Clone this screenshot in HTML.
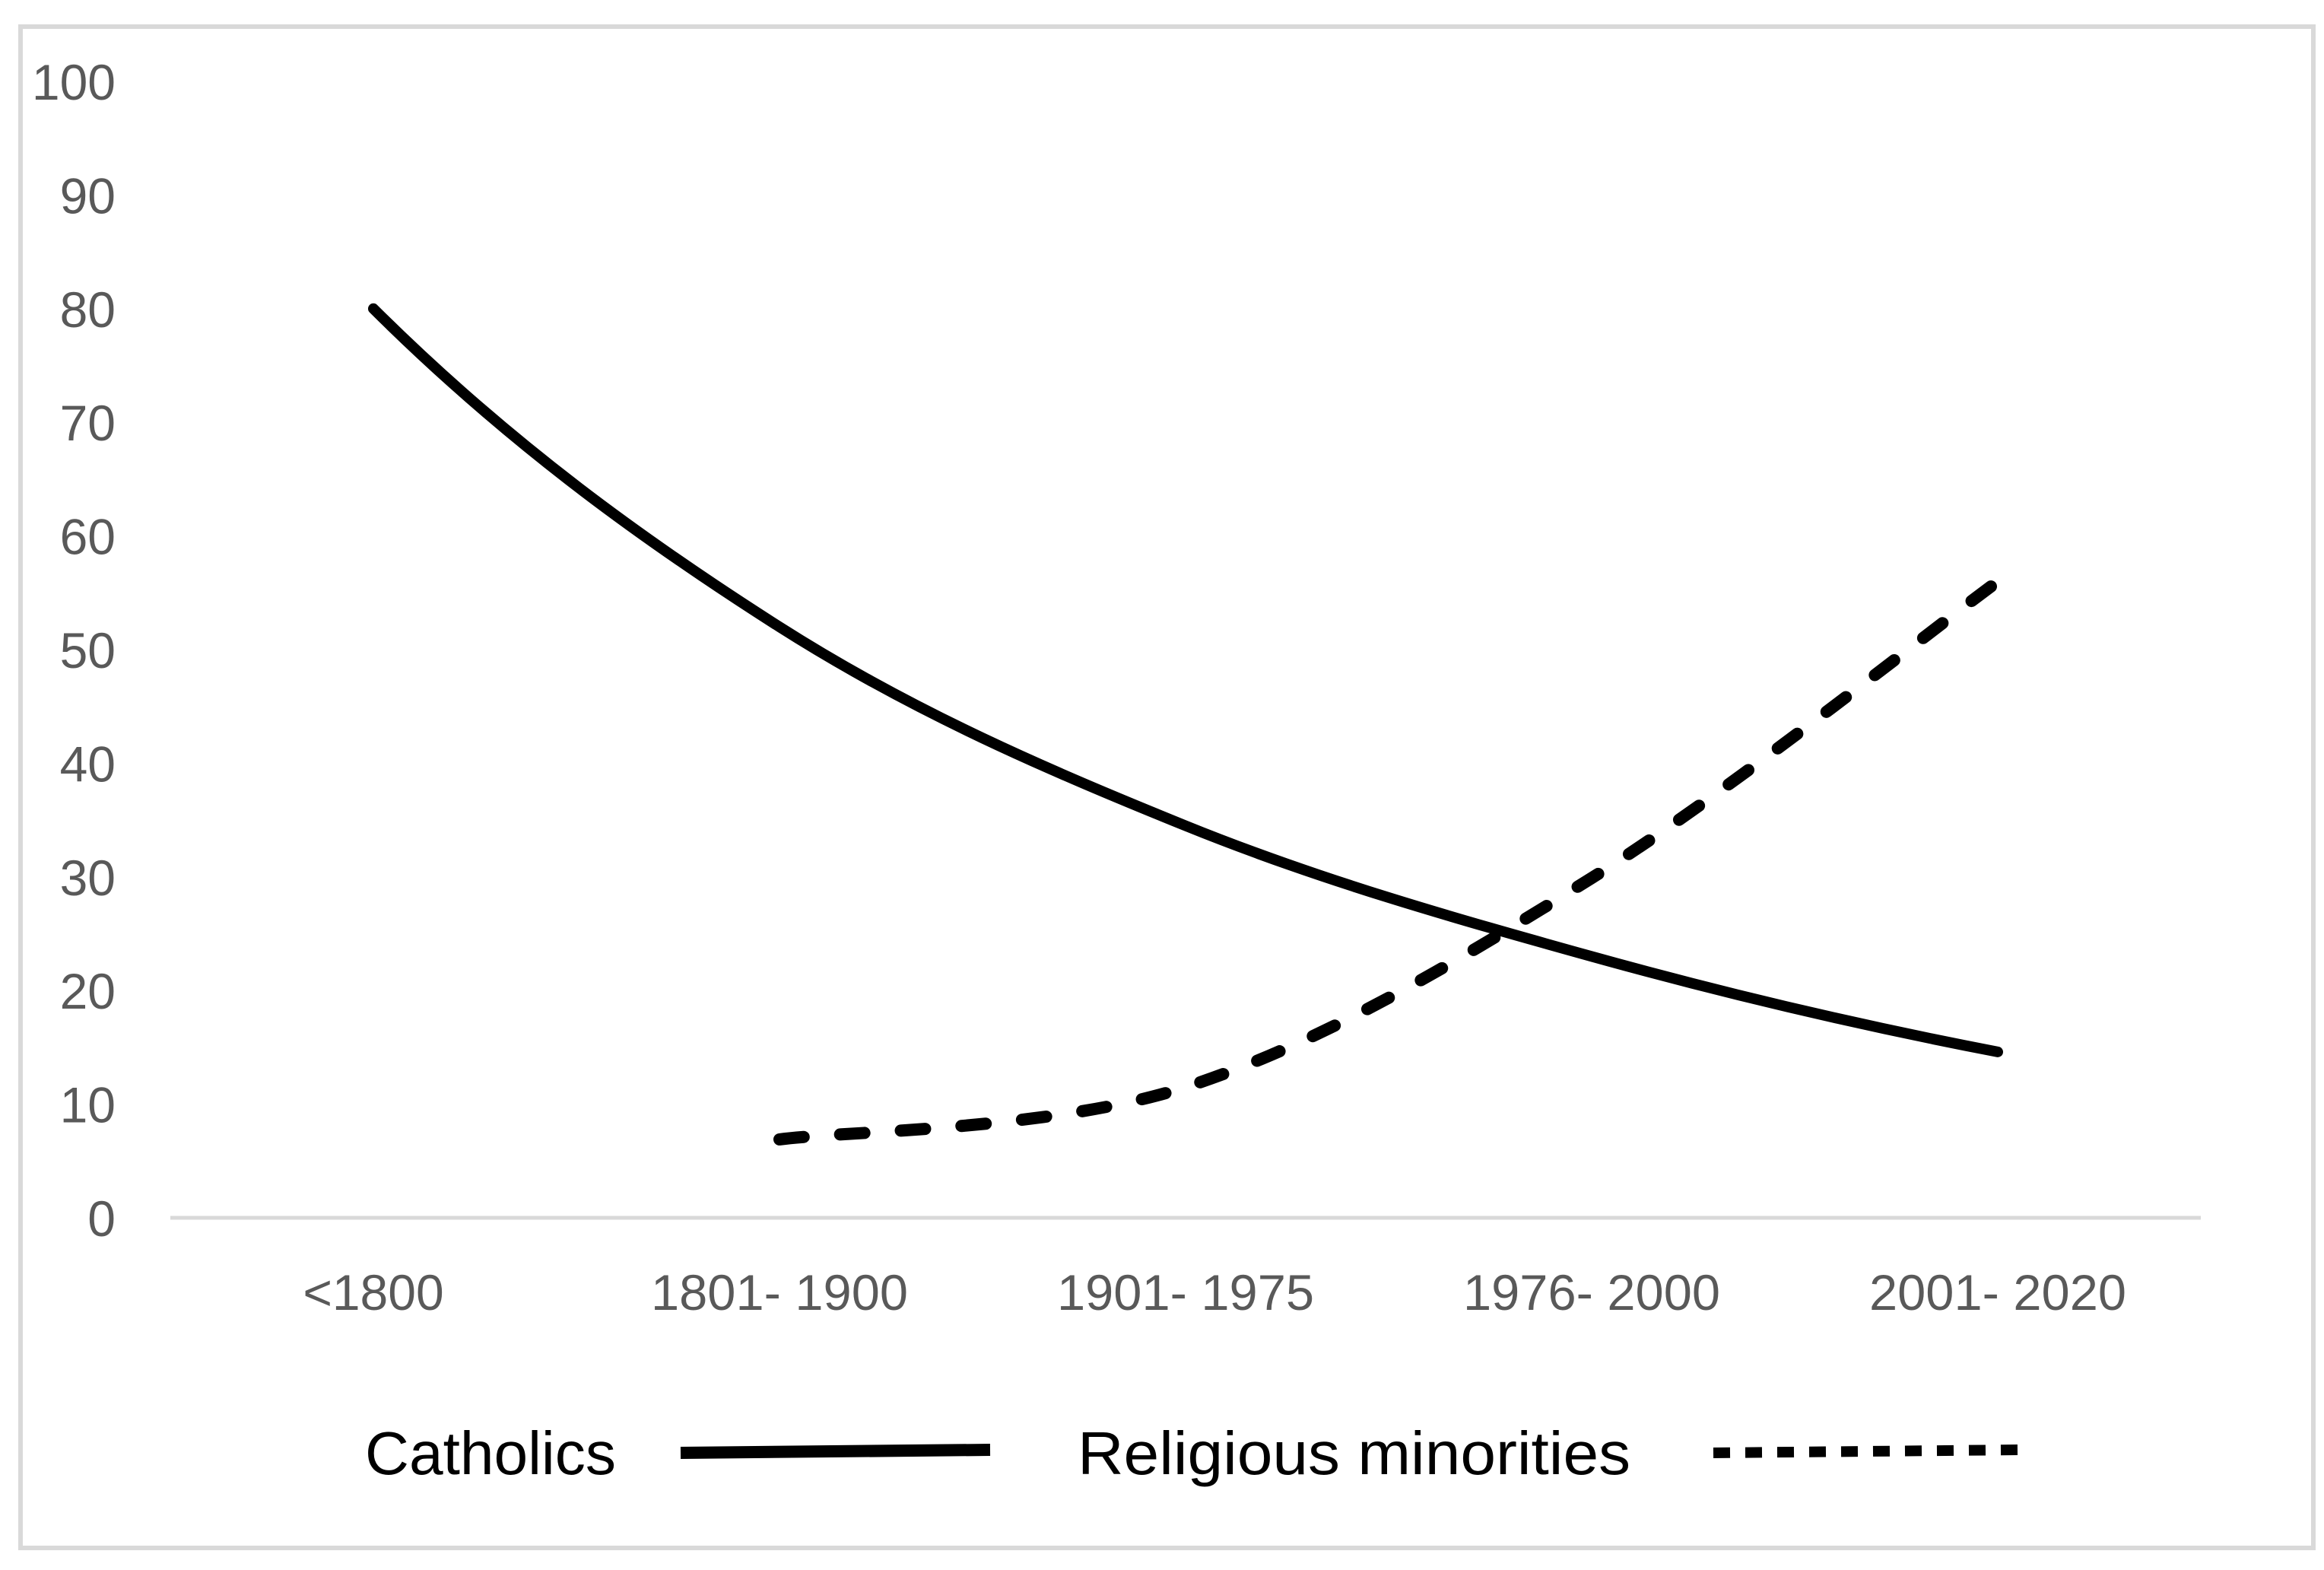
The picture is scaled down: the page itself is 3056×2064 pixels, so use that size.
<!DOCTYPE html>
<html><head><meta charset="utf-8"><style>
html,body{margin:0;padding:0;background:#fff;}
svg{display:block;}
</style></head><body>
<svg id="chart" width="3056" height="2064" viewBox="0 0 3056 2064" xmlns="http://www.w3.org/2000/svg">
<rect x="27" y="35" width="3015" height="2000" fill="#fff" stroke="#d9d9d9" stroke-width="6"/>
<g id="yticks"></g>
<g id="xticks"></g>
<g id="series"></g>
<g>
<text x="480" y="1938" font-family="Liberation Sans, sans-serif" font-size="80" fill="#000" textLength="330" lengthAdjust="spacingAndGlyphs">Catholics</text>
<line x1="895" y1="1910" x2="1302" y2="1906" stroke="#000" stroke-width="16"/>
<text x="1417" y="1938" font-family="Liberation Sans, sans-serif" font-size="80" fill="#000" textLength="727" lengthAdjust="spacingAndGlyphs">Religious minorities</text>
<line x1="2253" y1="1910" x2="2657" y2="1906" stroke="#000" stroke-width="14" stroke-dasharray="22 20" stroke-linecap="butt"/>
</g>
</svg>
<script>
const categories = ["<1800","1801- 1900","1901- 1975","1976- 2000","2001- 2020"];
const catholics = [80, 52, 34.5, 23, 14.6];
const minorities = [null, 6.9, 11.5, 29.9, 56];
const yTicks = [0,10,20,30,40,50,60,70,80,90,100];

const NS="http://www.w3.org/2000/svg";
const x0=224, x1=2894, yZero=1601, yTop=107;
const step=(x1-x0)/categories.length;
function xPos(i){return x0+step*(i+0.5);}
function yPos(v){return yZero-(v/100)*(yZero-yTop);}
function mk(tag,attrs,parent){const e=document.createElementNS(NS,tag);for(const k in attrs)e.setAttribute(k,attrs[k]);parent.appendChild(e);return e;}

const yg=document.getElementById('yticks');
yTicks.forEach(v=>{
  const t=mk('text',{x:152,y:yPos(v)+24,'text-anchor':'end','font-family':'Liberation Sans, sans-serif','font-size':'66',fill:'#595959'},yg);
  
  
  t.textContent=v;
});
const xg=document.getElementById('xticks');
const ax=mk('line',{x1:x0,y1:yZero,x2:x1,y2:yZero,stroke:'#d9d9d9','stroke-width':5},xg);


categories.forEach((c,i)=>{
  const attrs={x:xPos(i),y:1722,'text-anchor':'middle','font-family':'Liberation Sans, sans-serif','font-size':'66',fill:'#595959'};
  if(c.length>6){attrs.textLength=338;attrs.lengthAdjust='spacingAndGlyphs';}
  const t=mk('text',attrs,xg);
  
  
  t.textContent=c;
});

function smoothPath(vals, geomEnds){
  const pts=[];const vs=[];
  vals.forEach((v,i)=>{if(v!==null){pts.push([xPos(i),yPos(v)]);vs.push([i,v]);}});
  let pre=pts[0], post=pts[pts.length-1];
  if(geomEnds){
    const a=vs[0],b=vs[1];pre=[xPos(a[0]-1),yPos(a[1]*a[1]/b[1])];
    const c=vs[vs.length-1],d=vs[vs.length-2];post=[xPos(c[0]+1),yPos(c[1]*c[1]/d[1])];
  }
  let d='M'+pts[0][0]+','+pts[0][1];
  for(let i=0;i<pts.length-1;i++){
    const p0=i>0?pts[i-1]:pre,p1=pts[i],p2=pts[i+1],p3=i+2<pts.length?pts[i+2]:post;
    const t=1/6;
    const c1=[p1[0]+(p2[0]-p0[0])*t,p1[1]+(p2[1]-p0[1])*t];
    const c2=[p2[0]-(p3[0]-p1[0])*t,p2[1]-(p3[1]-p1[1])*t];
    d+=' C'+c1+' '+c2+' '+p2;
  }
  return d;
}
const sg=document.getElementById('series');
const l1=mk('path',{d:smoothPath(catholics,true),fill:'none',stroke:'#000','stroke-width':14,'stroke-linecap':'round'},sg);


const l2=mk('path',{d:smoothPath(minorities,false),fill:'none',stroke:'#000','stroke-width':16,'stroke-linecap':'round','stroke-dasharray':'32 48'},sg);


</script>
</body></html>
